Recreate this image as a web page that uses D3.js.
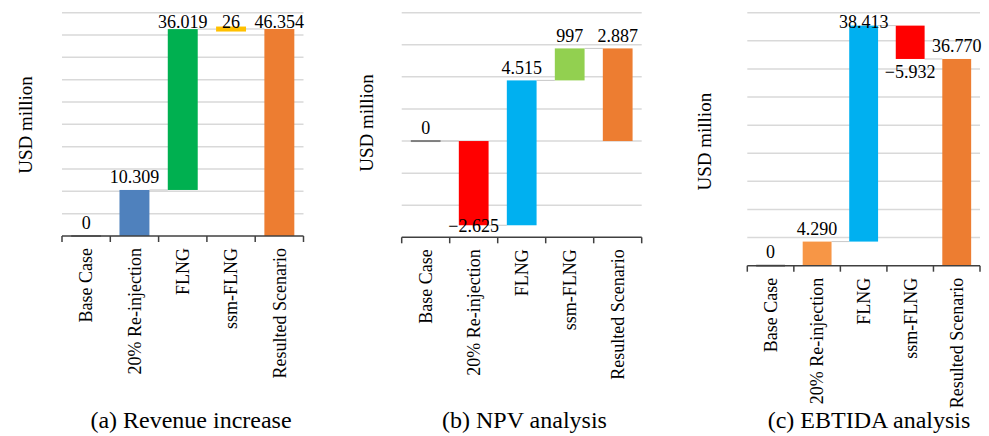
<html>

<head>
    <meta charset="utf-8" />
    <script src="https://cdn.jsdelivr.net/npm/d3@7"></script>
    <style>
        body { margin: 0; background: #fff; }
    </style>
</head>

<body>
    <script>
        var width = 989;
        var height = 436;

        var categories = ['Base Case', '20% Re-injection', 'FLNG', 'ssm-FLNG', 'Resulted Scenario'];
        var kinds = ['base', 'delta', 'delta', 'delta', 'total'];

        var revenueValues = [0, 10.309, 36.019, 0.026, 46.354];
        var revenueLabels = ['0', '10.309', '36.019', '26', '46.354'];
        var revenueColors = ['#7f7f7f', '#4f81bd', '#00b050', '#ffc000', '#ed7d31'];
        var revenueGrid = [0, 5, 10, 15, 20, 25, 30, 35, 40, 45, 50];

        var npvValues = [0, -2.625, 4.515, 0.997, 2.887];
        var npvLabels = ['0', '\u22122.625', '4.515', '997', '2.887'];
        var npvColors = ['#7f7f7f', '#ff0000', '#00b0f0', '#92d050', '#ed7d31'];
        var npvGrid = [-3, -2, -1, 0, 1, 2, 3, 4];

        var ebtidaValues = [0, 4.290, 38.413, -5.932, 36.770];
        var ebtidaLabels = ['0', '4.290', '38.413', '\u22125.932', '36.770'];
        var ebtidaColors = ['#7f7f7f', '#f79646', '#00b0f0', '#ff0000', '#ed7d31'];
        var ebtidaGrid = [0, 5, 10, 15, 20, 25, 30, 35, 40, 45];

        var titles = ['(a) Revenue increase', '(b) NPV analysis', '(c) EBTIDA analysis'];

        var panels = [
            { values: revenueValues, labels: revenueLabels, colors: revenueColors, grid: revenueGrid,
              left: 62, right: 303.5, top: 12.7, bottom: 236, titleX: 191, yTitle: [25, 125] },
            { values: npvValues, labels: npvLabels, colors: npvColors, grid: npvGrid,
              left: 401.7, right: 641.7, top: 12.7, bottom: 237.3, titleX: 524.5, yTitle: [366, 123] },
            { values: ebtidaValues, labels: ebtidaLabels, colors: ebtidaColors, grid: ebtidaGrid,
              left: 747.3, right: 980, top: 12.7, bottom: 265.7, titleX: 869, yTitle: [704, 141.7] }
        ];

        var svg = d3.select('body')
            .append('svg')
            .attr('width', width)
            .attr('height', height)
            .attr('font-family', '"Liberation Serif", "DejaVu Serif", serif');

        panels.forEach(function (p, pi) {
            var g = svg.append('g');

            var x = d3.scaleBand()
                .domain(categories)
                .range([p.left, p.right])
                .paddingInner(0.38)
                .paddingOuter(0.19);
            var y = d3.scaleLinear()
                .domain(d3.extent(p.grid))
                .range([p.bottom, p.top]);
            var step = x.step();
            var bw = x.bandwidth();

            // waterfall steps
            var running = 0;
            var bars = p.values.map(function (v, i) {
                var s, e;
                if (kinds[i] === 'base') { s = 0; e = v; running = v; }
                else if (kinds[i] === 'delta') { s = running; e = running + v; running = e; }
                else { s = 0; e = v; running = v; }
                return { cat: categories[i], start: s, end: e, kind: kinds[i], label: p.labels[i], color: p.colors[i] };
            });

            // gridlines
            g.selectAll('line.grid')
                .data(p.grid.slice(1))
                .enter()
                .append('line')
                .attr('x1', p.left)
                .attr('x2', p.right)
                .attr('y1', function (d) { return y(d); })
                .attr('y2', function (d) { return y(d); })
                .attr('stroke', '#d9d9d9')
                .attr('stroke-width', 1.5);

            // connectors
            g.selectAll('line.conn')
                .data(bars.slice(0, -1))
                .enter()
                .append('line')
                .attr('x1', function (d) { return x(d.cat) + bw; })
                .attr('x2', function (d, i) { return x(categories[i + 1]); })
                .attr('y1', function (d) { return y(d.end); })
                .attr('y2', function (d) { return y(d.end); })
                .attr('stroke', '#c8c8c8')
                .attr('stroke-width', 1);

            // bars
            g.selectAll('rect')
                .data(bars.filter(function (d) { return d.kind !== 'base'; }))
                .enter()
                .append('rect')
                .attr('fill', function (d) { return d.color; })
                .attr('x', function (d) { return x(d.cat); })
                .attr('width', bw)
                .attr('y', function (d) {
                    var h = Math.abs(y(d.start) - y(d.end));
                    var t = Math.min(y(d.start), y(d.end));
                    return h < 5 ? t - (5 - h) / 2 : t;
                })
                .attr('height', function (d) {
                    return Math.max(Math.abs(y(d.start) - y(d.end)), 5);
                });

            // base case marker
            g.selectAll('line.base')
                .data(bars.filter(function (d) { return d.kind === 'base'; }))
                .enter()
                .append('line')
                .attr('x1', function (d) { return x(d.cat); })
                .attr('x2', function (d) { return x(d.cat) + bw; })
                .attr('y1', function (d) { return y(d.end); })
                .attr('y2', function (d) { return y(d.end); })
                .attr('stroke', '#7f7f7f')
                .attr('stroke-width', 2);

            // axis line with ticks on the category boundaries
            var axisY = p.bottom;
            g.append('line')
                .attr('x1', p.left)
                .attr('x2', p.right)
                .attr('y1', axisY)
                .attr('y2', axisY)
                .attr('stroke', '#404040')
                .attr('stroke-width', 1.5);
            var edges = categories.map(function (c) { return x(c) - (step - bw) / 2; });
            edges.push(p.right);
            g.selectAll('line.tick')
                .data(edges)
                .enter()
                .append('line')
                .attr('x1', function (d) { return d; })
                .attr('x2', function (d) { return d; })
                .attr('y1', axisY)
                .attr('y2', axisY + 6)
                .attr('stroke', '#404040')
                .attr('stroke-width', 1.5);

            // value labels
            g.selectAll('text.val')
                .data(bars)
                .enter()
                .append('text')
                .attr('text-anchor', 'middle')
                .attr('font-size', 18)
                .attr('x', function (d) { return x(d.cat) + bw / 2; })
                .attr('y', function (d) {
                    if (d.kind === 'base') return y(d.end) - 7.5;
                    if (d.end >= d.start) return Math.max(y(d.end) - 6.5, p.top + 15);
                    return Math.min(y(d.end) + 19.5, axisY - 5.5);
                })
                .text(function (d) { return d.label; });

            // category labels
            g.selectAll('text.cat')
                .data(categories)
                .enter()
                .append('text')
                .attr('font-size', 18)
                .attr('text-anchor', 'end')
                .attr('dy', '0.35em')
                .attr('transform', function (d) {
                    return 'translate(' + (x(d) + bw / 2) + ',' + (axisY + 12) + ') rotate(-90)';
                })
                .text(function (d) { return d; });

            // y title
            g.append('text')
                .attr('font-size', 19)
                .attr('text-anchor', 'middle')
                .attr('dy', '0.35em')
                .attr('transform', 'translate(' + p.yTitle[0] + ',' + p.yTitle[1] + ') rotate(-90)')
                .text('USD million');

            // panel title
            g.append('text')
                .attr('font-size', 24)
                .attr('text-anchor', 'middle')
                .attr('x', p.titleX)
                .attr('y', 428)
                .text(titles[pi]);
        });
    </script>
</body>

</html>
